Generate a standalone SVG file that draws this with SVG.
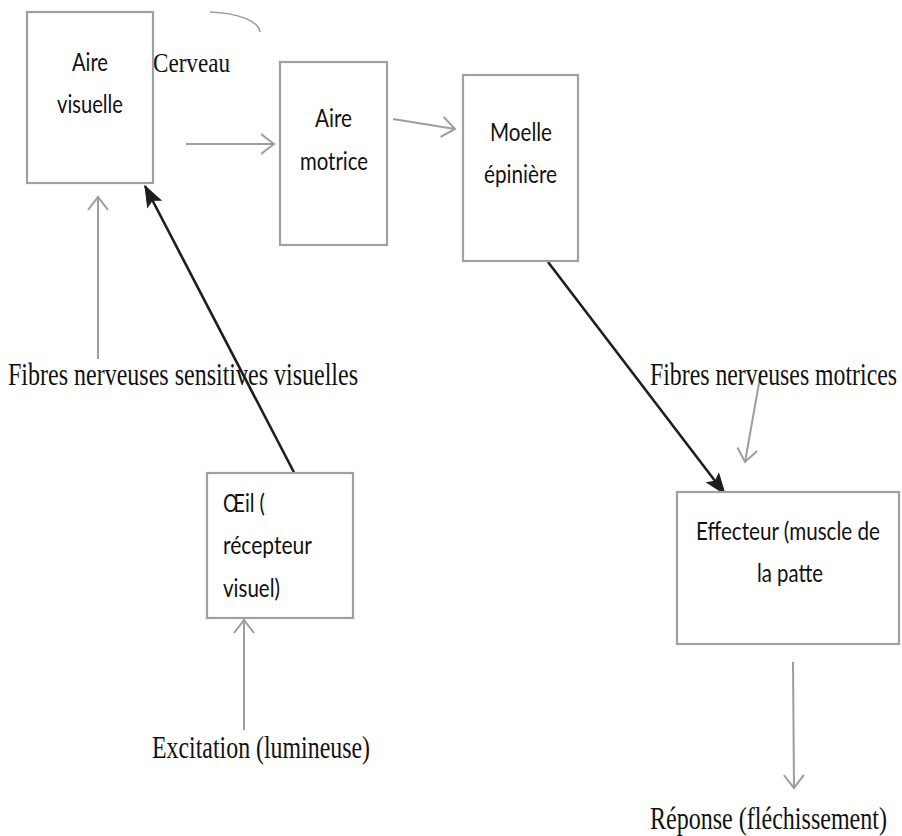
<svg xmlns="http://www.w3.org/2000/svg" width="902" height="836" viewBox="0 0 902 836">
<defs>
<style>
.box{fill:#fff;stroke:#a0a0a0;stroke-width:2.2}
.t{font-family:Lato,"Noto Sans","Liberation Sans",sans-serif;font-size:21px;fill:#111}
.s{font-family:"Liberation Serif","Times New Roman",serif;font-size:24px;fill:#111}
.g{stroke:#9e9e9e;stroke-width:2;fill:none}
.k{stroke:#1e1e1e;stroke-width:2.6;fill:none}
</style>
<marker id="ag" markerUnits="userSpaceOnUse" markerWidth="30" markerHeight="30" viewBox="-15 -15 30 30" refX="0" refY="0" orient="auto" overflow="visible">
<path d="M-13,-10 L0,0 L-13,10" fill="none" stroke="#9e9e9e" stroke-width="2"/>
</marker>
<marker id="ak" markerUnits="userSpaceOnUse" markerWidth="30" markerHeight="30" viewBox="-25 -15 30 30" refX="0" refY="0" orient="auto" overflow="visible">
<path d="M-20,-7.5 L0,0 L-20,7.5 L-16,0 Z" fill="#1e1e1e" stroke="#1e1e1e" stroke-width="1"/>
</marker>
</defs>
<rect width="902" height="836" fill="#fff"/>

<g id="connectors">
<line class="g" x1="186" y1="144" x2="274" y2="144" marker-end="url(#ag)"/>
<line class="g" x1="393" y1="119" x2="455" y2="129" marker-end="url(#ag)"/>
<line class="k" x1="548" y1="262" x2="725" y2="494" marker-end="url(#ak)"/>
<line class="k" x1="299" y1="482" x2="145" y2="186" marker-end="url(#ak)"/>
<line class="g" x1="98" y1="359" x2="98" y2="197" marker-end="url(#ag)"/>
<line class="g" x1="244" y1="730" x2="244" y2="620" marker-end="url(#ag)"/>
<line class="g" x1="761" y1="372" x2="745" y2="462" marker-end="url(#ag)"/>
<line class="g" x1="793" y1="662" x2="794" y2="788" marker-end="url(#ag)"/>
</g>

<g id="cerveau">
<path d="M210,12 C236,13 258,20 260,32" fill="none" stroke="#9e9e9e" stroke-width="1.6"/>
<text class="s" transform="translate(153,72) scale(1,1.15)" style="font-size:23px" textLength="77" lengthAdjust="spacingAndGlyphs">Cerveau</text>
</g>

<g id="aire-visuelle">
<rect class="box" x="27" y="12" width="126" height="171"/>
<text class="t" transform="translate(72,71) scale(1,1.2)" textLength="36" lengthAdjust="spacingAndGlyphs">Aire</text>
<text class="t" transform="translate(57,113) scale(1,1.2)" textLength="66" lengthAdjust="spacingAndGlyphs">visuelle</text>
</g>

<g id="aire-motrice">
<rect class="box" x="280" y="62" width="107" height="183"/>
<text class="t" transform="translate(315,127) scale(1,1.2)" textLength="37" lengthAdjust="spacingAndGlyphs">Aire</text>
<text class="t" transform="translate(300,170) scale(1,1.2)" textLength="68" lengthAdjust="spacingAndGlyphs">motrice</text>
</g>

<g id="moelle-epiniere">
<rect class="box" x="463" y="75" width="115" height="186"/>
<text class="t" transform="translate(490,141) scale(1,1.2)" textLength="62" lengthAdjust="spacingAndGlyphs">Moelle</text>
<text class="t" transform="translate(484,183) scale(1,1.2)" textLength="73" lengthAdjust="spacingAndGlyphs">épinière</text>
</g>

<g id="oeil">
<rect class="box" x="207" y="473" width="146" height="145"/>
<text class="t" transform="translate(223,512) scale(1,1.2)" textLength="42" lengthAdjust="spacingAndGlyphs">Œil (</text>
<text class="t" transform="translate(223,554) scale(1,1.2)" textLength="89" lengthAdjust="spacingAndGlyphs">récepteur</text>
<text class="t" transform="translate(223,597) scale(1,1.2)" textLength="57" lengthAdjust="spacingAndGlyphs">visuel)</text>
</g>

<g id="effecteur">
<rect class="box" x="677" y="492" width="222" height="152"/>
<text class="t" transform="translate(696,540) scale(1,1.2)" textLength="184" lengthAdjust="spacingAndGlyphs">Effecteur (muscle de</text>
<text class="t" transform="translate(757,582) scale(1,1.2)" textLength="66" lengthAdjust="spacingAndGlyphs">la patte</text>
</g>

<g id="fibres-sensitives">
<text class="s" transform="translate(8,385) scale(1,1.35)" textLength="350" lengthAdjust="spacingAndGlyphs">Fibres nerveuses sensitives visuelles</text>
</g>

<g id="fibres-motrices">
<text class="s" transform="translate(650,385) scale(1,1.35)" textLength="247" lengthAdjust="spacingAndGlyphs">Fibres nerveuses motrices</text>
</g>

<g id="excitation">
<text class="s" transform="translate(152,758) scale(1,1.35)" textLength="218" lengthAdjust="spacingAndGlyphs">Excitation (lumineuse)</text>
</g>

<g id="reponse">
<text class="s" transform="translate(650,829) scale(1,1.35)" textLength="237" lengthAdjust="spacingAndGlyphs">Réponse (fléchissement)</text>
</g>
</svg>
